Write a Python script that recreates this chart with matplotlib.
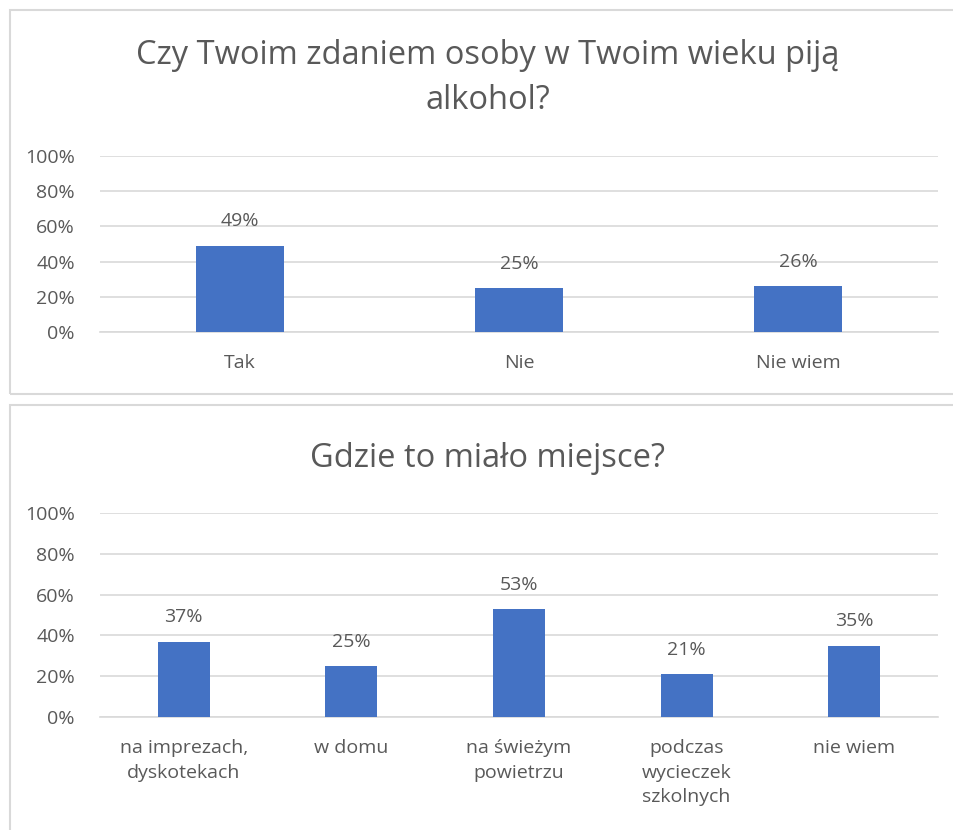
import matplotlib
matplotlib.use("Agg")
import matplotlib.pyplot as plt
from matplotlib.patches import Rectangle

# data
cats1 = ["Tak", "Nie", "Nie wiem"]
vals1 = [49, 25, 26]
title1 = "Czy Twoim zdaniem osoby w Twoim wieku piją\nalkohol?"

cats2 = ["na imprezach,\ndyskotekach", "w domu", "na świeżym\npowietrzu",
         "podczas\nwycieczek\nszkolnych", "nie wiem"]
vals2 = [37, 25, 53, 21, 35]
title2 = "Gdzie to miało miejsce?"

yticks = [0, 20, 40, 60, 80, 100]

plt.rcParams['font.family'] = ['Open Sans', 'DejaVu Sans']
W, H = 954, 830
fig = plt.figure(figsize=(W / 100, H / 100), dpi=100)

bar_c = "#4472C4"
txt_c = "#595959"
grid_c = "#D9D9D9"


def px(x0, y0, x1, y1):
    # pixel box (top-left origin) -> figure fraction
    return [x0 / W, 1 - y1 / H, (x1 - x0) / W, (y1 - y0) / H]


# panel borders
fig.patches.append(Rectangle((10 / W, 1 - 394 / H), 960 / W, 384 / H, transform=fig.transFigure,
                             fill=False, edgecolor=grid_c, lw=1.5))
fig.patches.append(Rectangle((10 / W, 1 - 850 / H), 960 / W, 445 / H, transform=fig.transFigure,
                             fill=False, edgecolor=grid_c, lw=1.5))


def draw(ax, cats, vals, width):
    x = range(len(cats))
    ax.bar(x, vals, width=width, color=bar_c, zorder=3)
    for i, v in zip(x, vals):
        ax.annotate(f"{v}%", (i, v), xytext=(0, 11), textcoords="offset points",
                    ha="center", va="bottom", fontsize=14, color=txt_c)
    ax.set_xlim(-0.5, len(cats) - 0.5)
    ax.set_ylim(0, 100)
    ax.set_yticks(yticks)
    ax.set_yticklabels([f"{t}%" for t in yticks])
    ax.set_xticks(list(x))
    ax.set_xticklabels(cats, linespacing=1.45)
    ax.yaxis.grid(True, color=grid_c, lw=1.2, zorder=0)
    for s in ["top", "right", "left"]:
        ax.spines[s].set_visible(False)
    ax.spines["bottom"].set_color(grid_c)
    ax.spines["bottom"].set_linewidth(1.2)
    ax.tick_params(axis="both", length=0, labelsize=14, colors=txt_c)
    ax.tick_params(axis="x", pad=16)
    ax.tick_params(axis="y", pad=18)


ax1 = fig.add_axes(px(100, 156, 938, 332))
draw(ax1, cats1, vals1, 0.315)
fig.text(488 / W, 1 - 78 / H, title1, ha="center", va="center", fontsize=23.5,
         color=txt_c, linespacing=1.45)

ax2 = fig.add_axes(px(100, 513, 938, 717))
draw(ax2, cats2, vals2, 0.31)
fig.text(488 / W, 1 - 458 / H, title2, ha="center", va="center", fontsize=23.5, color=txt_c)

fig.savefig("out.png", dpi=100)
